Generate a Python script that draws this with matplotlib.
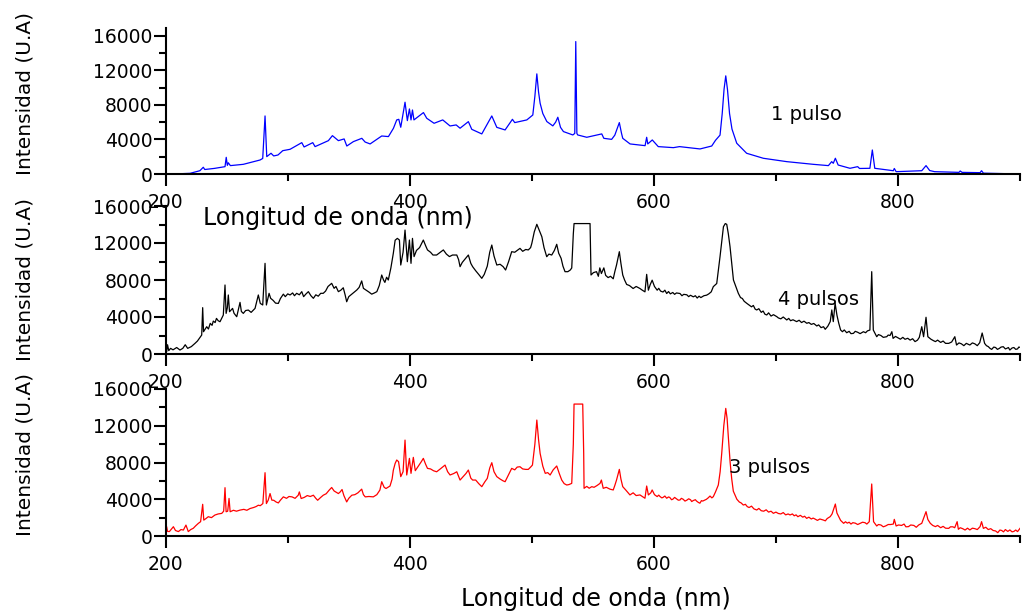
import numpy as np
import matplotlib
matplotlib.use('Agg')
import matplotlib.pyplot as plt
from matplotlib.ticker import MultipleLocator

# Espectros de emision (longitud de onda en nm, intensidad en U.A)

# 1 pulso (azul)
wl_1 = [200, 210, 220, 228, 230.8, 232, 240, 248.6, 249.6, 250.5, 251.3, 253, 263.6, 277.3, 279.5,
        281.4, 282.8, 286.3, 288.5, 292, 295.9, 301.9, 311.5, 313.4, 320.5, 322.4, 333.3, 336.6,
        341.5, 346.2, 348.4, 353.8, 360.7, 363.4, 367.5, 377, 382.5, 386.6, 389.3, 391, 392.6,
        396.1, 398, 399.7, 401, 402.2, 403.4, 411.2, 413.9, 419.9, 427, 433, 438, 441.2, 448,
        450.8, 459, 467.2, 471.3, 478.1, 484.1, 486, 495.9, 500.8, 502.5, 504.1, 505.5, 506.8,
        509, 512.3, 517.2, 519.5, 521.3, 523.5, 525.9, 533.6, 535.2, 536.0, 536.9, 537.6, 545,
        557.3, 559, 565.4, 568, 569.5, 571.7, 573.5, 574.5, 580.5, 592.8, 594.1, 595, 598.7,
        603.6, 616, 621, 637.8, 647.4, 650.5, 654.2, 656, 657.5, 658.9, 660.3, 662, 664, 667.9,
        676, 689.7, 708.9, 730.6, 743, 745.7, 747, 748.7, 751, 760.7, 767, 768.5, 777, 779, 781,
        796.2, 797, 798.5, 819.5, 823, 826, 830, 850, 851, 852.5, 867.3, 868.5, 870, 900]
int_1 = [0, 20, 80, 380, 780, 520, 650, 850, 1930, 1000, 1300, 970, 1120, 1620, 1800,
         6720, 2010, 2400, 2090, 2200, 2700, 2860, 3630, 3130, 3630, 3170, 3860, 4440,
         3860, 4060, 3240, 3750, 4130, 3700, 3480, 4400, 4330, 5290, 6260, 6330, 5410,
         8310, 6180, 7530, 6260, 7410, 6260, 7110, 6450, 5870, 6260, 5560, 5680, 5300, 6060,
         5170, 4640, 6720, 5400, 5100, 6330, 5950, 6260, 6830, 9000, 11590, 9500, 8190,
         7000, 6070, 5570, 6000, 6570, 5400, 4910, 4520, 4700, 15330, 4700, 4520, 4250,
         4640, 4130, 4010, 4500, 5100, 5950, 4700, 4130, 3480, 3280, 4250, 3480, 3940,
         3170, 3050, 3170, 2900, 3240, 3900, 4500, 7000, 9800, 11360, 9800, 7000, 5200, 3560,
         2400, 1820, 1430, 1120, 970, 1430, 1240, 1820, 1040, 660, 850, 640, 660, 2780, 660,
         380, 640, 270, 380, 970, 400, 270, 190, 350, 190, 155, 380, 100, 0]

# 4 pulsos (negro)
wl_4 = [200, 200.8, 201.5, 202.5, 204, 206, 209, 211.7, 214, 216, 218, 221, 224, 226, 227.6, 229.5,
        230.3, 231, 233.6, 235, 236.5, 238, 239, 240.5, 241.6, 243, 244.5, 247.2, 248.6, 249.5,
        250.5, 251.3, 252.3, 254.8, 256, 258.2, 259.5, 260.9, 262, 263.6, 265.5, 267.7, 270,
        273.2, 275.9, 277.5, 279.5, 281.4, 282.5, 284.7, 286, 288, 290, 292.3, 294, 296.4, 298,
        300, 301.9, 304, 305.5, 307.3, 309.5, 311.5, 313, 315, 316.9, 319, 321, 323, 325, 327,
        329.1, 331, 333, 336, 338, 339.5, 341.5, 343.5, 345.5, 347, 348.3, 350, 352.5, 354.5,
        356.6, 358.5, 360.6, 362, 364, 366.5, 368.8, 371, 373, 375, 377, 378.5, 379.6, 381,
        382.4, 384.5, 386.5, 388, 389.8, 391.5, 392.6, 394.5, 396.1, 398, 399.7, 401, 402.2,
        403.5, 405.5, 408, 411.1, 413, 414.5, 417, 419, 422, 424, 427.5, 430, 432.5, 435, 438.5,
        440, 441.2, 443, 445.5, 448, 450, 451.5, 454, 456.5, 459, 461, 463.5, 465.5, 467.2, 469,
        471.3, 474, 476.5, 478.5, 481, 483.5, 486, 488, 490.3, 492.5, 495, 497.1, 499, 500, 502,
        504.1, 506, 508.2, 510, 512.2, 514, 516.3, 518.5, 520.4, 522, 524, 525.5, 527.2, 529.5,
        531.5, 532.7, 534, 534.6, 547.7, 548.5, 550.5, 553, 554.5, 555.7, 557, 559, 560.5, 562.5,
        564.5, 566.7, 568, 569.4, 571.7, 573, 574.5, 576, 577.7, 580, 583, 585.5, 588.6, 590.5,
        592.7, 594.1, 595.5, 597, 598.6,
        600.5, 602.7, 604, 605.5, 607.5, 609, 610.5, 612, 613.5, 615.5, 617, 618.5, 621.4,
        623, 624.5, 627, 628.5, 630, 632.3, 634, 635.5, 637, 638.5, 641, 643.2, 645, 647,
        648.7, 651.5, 654.2, 657, 658.5, 659.7, 661, 662.4, 665.2,
        669.2, 671, 672.5, 674, 676.1, 678, 680, 681.5, 683, 684.3, 686, 688, 689.5, 691,
        692.5, 694, 696, 698, 700.7, 702, 704, 706, 708.9, 710.5, 712, 714, 717, 719, 721,
        723, 725.3, 727, 729, 731, 733.5, 735, 737, 739, 740.4,
        742.5, 744.5, 745.8, 747, 748.5, 750,
        751.5, 753, 754.5, 756, 758, 760, 761.5, 763.5, 765, 767, 769, 771.7, 773.5, 775, 777,
        778.5, 779.8,
        782.6, 784, 786, 788, 790.8, 792, 793.5, 795, 796, 798, 800, 802, 804, 805.8, 808, 810,
        812, 814, 816, 817.5,
        819.5, 821, 823, 824.5,
        827, 829, 830.7, 832.5, 835, 837, 839, 841.6, 844, 846.6, 848, 850, 852, 854, 856,
        858.9, 861, 863, 865, 867, 869,
        871, 872.5, 874, 875.5, 876.8, 878.5, 880, 881.5, 883, 884.5, 886.3, 888, 889, 890.5,
        891.7, 893.5, 895, 896.5, 898, 899, 900]
int_4 = [790, 250, 1000, 360, 610, 450, 700, 430, 610, 1000, 610, 800, 1150, 1400, 1690, 2050,
         5010, 2410, 2950, 2700, 3310, 3100, 3560, 3400, 3850, 3600, 3490, 4210, 7460, 4390,
         5000, 6380, 4570, 4930, 4400, 4030, 4800, 5580, 4600, 4390, 4700, 4750, 4500,
         4930, 6380, 5470, 5300, 9800, 5300, 6560, 6020, 5800, 5500, 5470, 6000, 6470, 6200,
         6500, 6380, 6600, 6300, 6560, 6400, 6740, 6200, 6500, 6740, 6300, 6020, 6400, 6250, 6560,
         6560, 6800, 7300, 7640, 7100, 7300, 6740, 6900, 7160, 6400, 5650, 6200, 6470, 6700,
         6920, 7200, 7900, 7100, 6920, 6700, 6470, 6600, 6740, 7400, 8540, 8000, 7740, 8300,
         8000, 9300, 10880, 12300, 12500, 12320, 9620, 11000, 13400, 9980, 12320, 9800, 12500,
         10530, 11200, 11500, 12320, 11700, 11250, 11000, 10700, 10700, 10900, 11250, 10800, 10530, 10700, 10700,
         10200, 9440, 9900, 10300, 10700, 9800, 9440, 9000, 8600, 8180, 8600, 9500, 11000, 11780, 10600,
         9620, 9700, 9440, 9080, 10000, 11060, 11000, 11200, 11420, 11100, 11300, 11250, 11500, 11960, 13200,
         14020, 13400, 12680, 11500, 10520, 10800, 10700, 11200, 11860, 10900, 10340, 9500, 8900, 8900,
         9080, 9300, 13000, 14100, 14100, 8540, 8800, 8900, 8400, 9310, 8700, 9310, 8500, 8260,
         8400, 8130, 8900, 9620, 11060, 9800, 8540, 8000, 7520, 7400, 7080, 7300, 7080, 6900,
         6720, 8610, 6900, 7500, 7980,
         7300, 6900, 7100, 6800, 6700, 6900, 6540, 6750, 6500, 6650, 6450, 6600, 6540,
         6300, 6450, 6400, 6200, 6350, 6180, 6300, 6050, 6250, 6100, 6300, 6360, 6500, 6720,
         7280, 7620, 10520, 13760, 14100, 14020, 13000, 11600, 8000,
         6560, 6100, 6000, 5700, 5480, 5300, 5100, 5250, 4850, 4760, 4900, 4500, 4650, 4300,
         4220, 4450, 4100, 4250, 4040, 3900, 3800, 4000, 3680, 3850, 3600, 3700, 3500, 3650, 3400,
         3550, 3320, 3400, 3200, 3300, 3030, 3150, 2850, 2950, 2670,
         3000, 3500, 4760, 3500, 5480, 4200,
         3320, 2600, 2410, 2600, 2300, 2450, 2200, 2230, 2450, 2350, 2200, 2410, 2300, 2500, 2590,
         8900, 2590,
         1870, 2100, 2000, 1800, 1870, 2050, 2000, 2410, 1690, 1900, 1750, 1600, 1800, 1590, 1700, 1500,
         1650, 1340, 1500, 1800,
         2950, 1870, 3970, 1870,
         1600, 1450, 1340, 1500, 1250, 1400, 1150, 1150, 1300, 1870, 970, 1200, 1100, 900, 1150,
         970, 1200, 1100, 900, 1220, 2270,
         1150, 900, 800, 600, 500, 750, 700, 500, 600, 750, 790, 550, 600, 700,
         430, 650, 700, 500, 550, 750, 720]

# 3 pulsos (rojo)
wl_3 = [200, 200.8, 201.5, 203, 206.3, 208, 210.4, 212.5, 214.5, 216.6, 218.5, 220.5, 222.6, 224.5,
        226.7, 228.6, 230.3, 231.2, 233, 234.9, 237.5, 240.3, 243, 245.9, 247.5, 248.6, 249.5,
        250.8, 251.9, 252.8, 255.5, 258, 260.9, 264, 266.5, 269.1, 272, 274, 275.9, 277.5, 279.6,
        281.4, 282.5, 284, 285.5, 287, 288.5, 290.5, 292.3, 294, 296.4, 299, 301, 303.5, 306,
        308.6, 309.5, 311, 313.5, 316, 318.5, 321, 323, 324.5, 327, 329.1, 331.5, 334, 336, 338,
        341.5, 343, 344.5, 346, 348.3, 350, 352.5, 355, 357.5, 360.6, 362, 363.5, 366.5, 370.1,
        373, 375.5, 377, 379, 380.5, 383.8, 385.5, 386.5, 388, 389.3, 390.8, 392.6, 394.5, 396.1,
        397.5, 399.7, 401, 402.9, 404.5, 407, 409.5, 411.1, 413, 414.5, 417, 419.5, 422, 425,
        428.9, 431, 433, 436, 438.5, 441.2, 444, 446, 448, 450, 451.5, 454, 456.5, 459, 461.5,
        463.5, 465.5, 467.2, 469, 471.3, 474, 476.5, 478.1, 481, 483.5, 486, 488, 490.3, 492.5,
        495, 497.1, 499, 500.5, 502.5, 504.1, 505.5, 506.8, 509, 511, 513, 515, 517.5, 520.4,
        522.5, 524.5, 526.5, 528.6, 530.5, 532.7, 534, 534.6, 541.7, 542.5, 542.8, 545, 547,
        549.1, 551, 553.5, 555.9, 557, 558.5, 561, 564, 566.7, 568, 569.4, 571.7, 573, 574.5,
        577, 580.4, 583, 585.5, 588.6, 590.5, 592.7, 594.1, 595.5, 597.5, 598.6,
        600.5, 602.7, 604, 605, 606.5, 607.5, 609, 610.5, 612, 613, 614.5, 615.5, 617, 618, 620,
        621.4, 622.5, 624, 625.5, 627, 628.5, 630, 631, 632.3, 634, 635, 636.5, 637.7, 639, 640,
        641.5, 643, 644.5, 646, 647.5, 648.7,
        650.5, 652.8, 654.3, 655.6, 657.3, 658.9, 660, 661, 662.5, 663.8, 665.1,
        668, 670, 671.5, 673.3, 675, 676.5, 678, 680, 682, 684.3, 686, 688, 690, 692, 694, 696,
        697.9, 700, 702, 704, 706, 708, 710, 711.6, 713.5, 715, 716.5, 718, 720, 722, 723.5,
        725.2, 727, 729, 730.5, 732, 734, 736, 738.8, 740.5, 742,
        744.5, 746, 748.7, 750, 751.5,
        753, 755.5, 757, 758.5, 760, 761.5, 763, 765, 767, 769.1, 771, 773, 774.5, 776.5,
        778.5, 780,
        782.6, 784, 786, 788, 790, 792, 794, 796.2, 797, 798.5, 800.5, 803, 805, 806.5, 808.6,
        810.5, 813, 815, 817, 819.5,
        821, 823, 824.5,
        826.5, 828.5, 830.7, 832.5, 835, 837, 839, 841.6, 843, 845, 846.5, 848.5, 849.5, 851,
        853, 855, 857, 858.9, 861, 863, 865, 867.3, 868.5, 870, 872, 874, 876, 878, 880, 881.8,
        883.5, 885, 886.5, 888, 890, 891.7, 893.5, 895, 896.5, 898, 899, 900]
int_3 = [290, 1010, 500, 480, 1010, 600, 480, 700, 650, 1190, 480, 700, 840, 1100,
         1370, 1560, 3450, 1730, 1900, 2100, 2000, 2280, 2400, 2460, 2700, 5260, 2640,
         2700, 4090, 2640, 2800, 2700, 2820, 2900, 2800, 2990, 3100, 3200, 3350, 3300, 3530,
         6890, 3530, 3900, 4620, 3900, 3890, 3700, 3600, 3900, 4260, 4100, 4300, 4260, 4100,
         4440, 4800, 4080, 4200, 4400, 4300, 4440, 4100, 3890, 4200, 4440, 4600, 5000, 5280, 4900,
         4620, 4800, 5060, 4400, 3710, 4100, 4440, 4500, 4700, 5100, 4500, 4260, 4300, 4260,
         4500, 5000, 5910, 5300, 5170, 5440, 6200, 7150, 7900, 8270, 8090, 6460, 7000, 10440,
         6640, 8450, 6820, 8560, 7110, 7600, 8100, 8450, 7800, 7360, 7300, 7100, 6990, 7300,
         7720, 7000, 6640, 6800, 6990, 6090, 6500, 6800, 7180, 6300, 6090, 6090, 5700, 5370, 5900,
         6270, 7400, 7980, 7000, 6460, 6200, 6000, 5910, 6700, 7360, 7200, 7500, 7540, 7300,
         7250, 7250, 7500, 7720, 10000, 12620, 10500, 8990, 7600, 6820, 6900, 6640, 7200, 7620,
         6800, 6090, 5700, 5550, 5600, 5730, 10000, 14360, 14360, 9000, 5190, 5400, 5200,
         5370, 5300, 5500, 5730, 6090, 5190, 5300, 5100, 5010, 5500, 6090, 7250, 6200, 5370,
         5000, 4470, 4700, 4400, 4470, 4300, 4110, 5440, 4470, 4700, 5010,
         4500, 4290, 4450, 4300, 4150, 4200, 4350, 4110, 4250, 4200, 3950, 4000, 4200, 4100, 3900,
         3920, 4100, 4000, 3800, 3900, 4050, 3950, 3750, 3860, 3950, 3800, 3650, 3570, 3850, 3800,
         3900, 3990, 4150, 4350, 4150, 4280,
         4800, 5550, 7000, 9000, 12000, 13890, 12800, 10800, 8000, 6200, 4880,
         4000, 3700, 3600, 3370, 3450, 3200, 3100, 3250, 2950, 2830, 3000, 2750, 2700, 2850, 2600, 2700,
         2470, 2600, 2450, 2400, 2550, 2300, 2400, 2290, 2400, 2200, 2300, 2100, 2250, 2050, 2150,
         1920, 2050, 1850, 1950, 1850, 1700, 1850, 1740, 1650, 1900,
         2110, 2400, 3480, 2500, 2110,
         1700, 1380, 1550, 1400, 1500, 1300, 1450, 1400, 1250, 1380, 1500, 1450, 1300, 1560,
         5660, 1560,
         1090, 1250, 1200, 1000, 1100, 1250, 1250, 1300, 1810, 1090, 1200, 1150, 1300, 1000, 1020,
         1200, 1150, 950, 1200, 1380,
         1920, 2650, 1800,
         1380, 1150, 1020, 1150, 900, 1050, 850, 830, 1000, 1000, 900, 1560, 730, 900,
         800, 650, 850, 660, 850, 800, 700, 1020, 1560, 830, 950, 700, 800, 600, 550, 360,
         650, 600, 450, 700, 500, 660, 450, 500, 650, 480, 650, 830]

series = [
    (wl_1, int_1, '#0000ff', '1 pulso', 16900, (724.7, 6840)),
    (wl_4, int_4, 'black', '4 pulsos', 16000, (735.3, 5840)),
    (wl_3, int_3, '#ff0000', '3 pulsos', 16000, (694.6, 7510)),
]

fig = plt.figure(figsize=(10.32, 6.13), dpi=100)
W, H = 1032, 613
# posiciones de los ejes en pixeles: (arriba, abajo)
boxes = [(28, 174), (206, 354), (389, 536)]
left_px, right_px = 165.7, 1020

for (wl, inten, col, lab, ytop, txtpos), (top, bot) in zip(series, boxes):
    ax = fig.add_axes([left_px / W, 1 - bot / H, (right_px - left_px) / W, (bot - top) / H])
    ax.set_facecolor('none')
    ax.plot(wl, inten, color=col, lw=0.9)
    ax.set_xlim(200, 900)
    ax.set_ylim(0, ytop)
    ax.xaxis.set_major_locator(MultipleLocator(200))
    ax.xaxis.set_minor_locator(MultipleLocator(100))
    ax.yaxis.set_major_locator(MultipleLocator(4000))
    ax.yaxis.set_minor_locator(MultipleLocator(2000))
    for s in ['top', 'right']:
        ax.spines[s].set_visible(False)
    for s in ['left', 'bottom']:
        ax.spines[s].set_linewidth(1.5)
    ax.tick_params(axis='both', which='major', length=8.5, width=1.5, labelsize=13.5)
    ax.tick_params(axis='both', which='minor', length=5, width=1.5)
    ax.tick_params(axis='y', which='major', pad=1)
    ax.tick_params(axis='x', which='major', pad=5)
    ax.text(txtpos[0], txtpos[1], lab, fontsize=14, ha='center', va='center')

# etiquetas del eje y
for yc in [93.5, 280, 455]:
    fig.text(25 / W, 1 - yc / H, 'Intensidad (U.A)', rotation=90, fontsize=14.5,
             ha='center', va='center')

# etiquetas del eje x
fig.text(338 / W, 1 - 218 / H, 'Longitud de onda (nm)', fontsize=17, ha='center', va='center')
fig.text(596 / W, 1 - 599 / H, 'Longitud de onda (nm)', fontsize=17, ha='center', va='center')

plt.savefig('out.png', dpi=100)
